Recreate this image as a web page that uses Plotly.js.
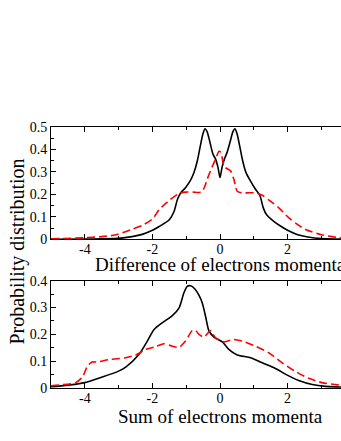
<!DOCTYPE html>
<html>
<head>
<meta charset="utf-8">
<script src="https://cdn.plot.ly/plotly-3.0.1.min.js"></script>
<style>
  html, body { margin: 0; padding: 0; background: #fff; }
  #wrap { width: 341px; height: 441px; overflow: hidden; position: relative; }
  #chart { width: 390px; height: 441px; }
</style>
</head>
<body>
<div id="wrap"><div id="chart"></div></div>
<script>
// ---- data ----
const diffBlackX = [-5, -4, -3.5, -3, -2.6, -2.3, -2.0, -1.8, -1.5, -1.36, -1.26, -1.16, -1.02, -0.87, -0.77, -0.67, -0.57, -0.5, -0.44, -0.38, -0.31, -0.21, -0.13, -0.06, 0, 0.06, 0.13, 0.21, 0.31, 0.38, 0.44, 0.5, 0.57, 0.67, 0.77, 0.9, 1.04, 1.18, 1.28, 1.38, 1.6, 1.8, 2.0, 2.3, 2.6, 3.0, 3.5, 4, 5];
const diffBlackY = [0, 0.001, 0.002, 0.004, 0.012, 0.022, 0.04, 0.057, 0.087, 0.124, 0.177, 0.207, 0.23, 0.263, 0.297, 0.35, 0.425, 0.472, 0.492, 0.478, 0.44, 0.38, 0.357, 0.32, 0.275, 0.32, 0.357, 0.387, 0.44, 0.478, 0.492, 0.472, 0.425, 0.35, 0.297, 0.26, 0.225, 0.195, 0.14, 0.109, 0.079, 0.058, 0.04, 0.02, 0.01, 0.003, 0.001, 0, 0];
const diffRedX = [-5, -4, -3.5, -3.08, -2.6, -2.3, -2.0, -1.8, -1.51, -1.21, -1.02, -0.8, -0.55, -0.45, -0.38, -0.24, -0.13, -0.03, 0.03, 0.09, 0.16, 0.31, 0.41, 0.51, 0.66, 0.85, 1.05, 1.25, 1.5, 1.74, 2.04, 2.3, 2.53, 3.0, 3.5, 4, 5];
const diffRedY = [0.002, 0.007, 0.012, 0.02, 0.045, 0.062, 0.09, 0.132, 0.172, 0.204, 0.21, 0.21, 0.21, 0.235, 0.267, 0.32, 0.357, 0.392, 0.387, 0.342, 0.32, 0.305, 0.267, 0.214, 0.207, 0.207, 0.207, 0.196, 0.169, 0.14, 0.095, 0.065, 0.044, 0.02, 0.008, 0.003, 0.001];

const sumBlackX = [-5, -4.76, -4.0, -3.48, -3.0, -2.79, -2.4, -2.15, -1.95, -1.71, -1.41, -1.21, -1.07, -0.97, -0.87, -0.75, -0.62, -0.52, -0.42, -0.33, -0.18, 0.07, 0.26, 0.51, 0.91, 1.25, 1.64, 1.99, 2.33, 2.73, 3.12, 3.52, 4, 5];
const sumBlackY = [0.005, 0.007, 0.02, 0.041, 0.063, 0.078, 0.125, 0.175, 0.218, 0.243, 0.27, 0.299, 0.354, 0.379, 0.381, 0.37, 0.345, 0.315, 0.263, 0.214, 0.19, 0.172, 0.144, 0.123, 0.113, 0.094, 0.073, 0.048, 0.028, 0.013, 0.006, 0.004, 0.002, 0.001];
const sumRedX = [-5, -4.76, -4.27, -4.07, -3.92, -3.78, -3.63, -3.28, -2.79, -2.49, -2.2, -1.9, -1.66, -1.41, -1.21, -1.02, -0.82, -0.72, -0.62, -0.47, -0.28, -0.13, 0.12, 0.41, 0.66, 1.05, 1.45, 1.84, 2.24, 2.63, 3.02, 3.52, 4, 5];
const sumRedY = [0.008, 0.011, 0.02, 0.041, 0.082, 0.097, 0.097, 0.106, 0.113, 0.123, 0.144, 0.154, 0.165, 0.156, 0.152, 0.175, 0.214, 0.214, 0.2, 0.19, 0.214, 0.187, 0.172, 0.181, 0.175, 0.156, 0.131, 0.094, 0.061, 0.036, 0.02, 0.011, 0.006, 0.002];

const xTickVals = [-4, -2, 0, 2, 4];
const xTickText = ["-4", "-2", "0", "2", "4"];
const xMinorVals = [-5, -3, -1, 1, 3, 5];
const yTitle = "Probability distribution";
const xTitleTop = "Difference of electrons momenta";
const xTitleBottom = "Sum of electrons momenta";

// ---- drawing ----
const FONT = '"Liberation Serif", "Times New Roman", serif';
const blackLine = {color: "#000000", width: 1.6, shape: "spline", smoothing: 0.7};
const redLine = {color: "#ff0000", width: 1.6, shape: "spline", smoothing: 0.7, dash: "8px,4px"};

const traces = [
  {x: diffBlackX, y: diffBlackY, xaxis: "x", yaxis: "y", mode: "lines", line: blackLine},
  {x: diffRedX, y: diffRedY, xaxis: "x", yaxis: "y", mode: "lines", line: redLine},
  {x: sumBlackX, y: sumBlackY, xaxis: "x2", yaxis: "y2", mode: "lines", line: blackLine},
  {x: sumRedX, y: sumRedY, xaxis: "x2", yaxis: "y2", mode: "lines", line: redLine}
];

function xAxis(anchor) {
  return {
    anchor: anchor, range: [-5, 5], domain: [0, 1],
    tickmode: "array", tickvals: xTickVals, ticktext: xTickText,
    ticks: "inside", ticklen: 5, tickwidth: 1, tickcolor: "#000",
    ticklabelstandoff: -3,
    minor: {tickmode: "array", tickvals: xMinorVals, ticks: "inside", ticklen: 3, tickwidth: 1, tickcolor: "#000"},
    showline: true, linecolor: "#000", linewidth: 1, mirror: "ticks",
    showgrid: false, zeroline: false,
    tickfont: {family: FONT, size: 14, color: "#000"}
  };
}
function yAxis(anchor, dom, top) {
  return {
    anchor: anchor, domain: dom, range: [0, top],
    tickmode: "linear", tick0: 0, dtick: 0.1,
    ticks: "inside", ticklen: 5, tickwidth: 1, tickcolor: "#000",
    minor: {dtick: 0.05, ticks: "inside", ticklen: 3, tickwidth: 1, tickcolor: "#000"},
    showline: true, linecolor: "#000", linewidth: 1, mirror: "ticks",
    showgrid: false, zeroline: false,
    tickfont: {family: FONT, size: 14, color: "#000"}
  };
}

const layout = {
  width: 390, height: 441,
  margin: {l: 51, r: 1, t: 127, b: 53, pad: 0},
  paper_bgcolor: "#fff", plot_bgcolor: "#fff",
  showlegend: false,
  xaxis: xAxis("y"),
  yaxis: yAxis("x", [0.5697, 1], 0.5),
  xaxis2: xAxis("y2"),
  yaxis2: yAxis("x2", [0, 0.411], 0.4),
  annotations: [
    {text: xTitleTop, xref: "paper", yref: "paper", x: 0.5, y: 0.475, xanchor: "center", yanchor: "middle", showarrow: false, font: {family: FONT, size: 19, color: "#000"}},
    {text: xTitleBottom, xref: "paper", yref: "paper", x: 0.5, y: -0.11, xanchor: "center", yanchor: "middle", showarrow: false, font: {family: FONT, size: 19, color: "#000"}},
    {text: yTitle, xref: "paper", yref: "paper", x: -0.102, y: 0.521, xanchor: "center", yanchor: "middle", textangle: -90, showarrow: false, font: {family: FONT, size: 20, color: "#000"}}
  ]
};

Plotly.newPlot("chart", traces, layout, {staticPlot: true, displayModeBar: false});
</script>
</body>
</html>
